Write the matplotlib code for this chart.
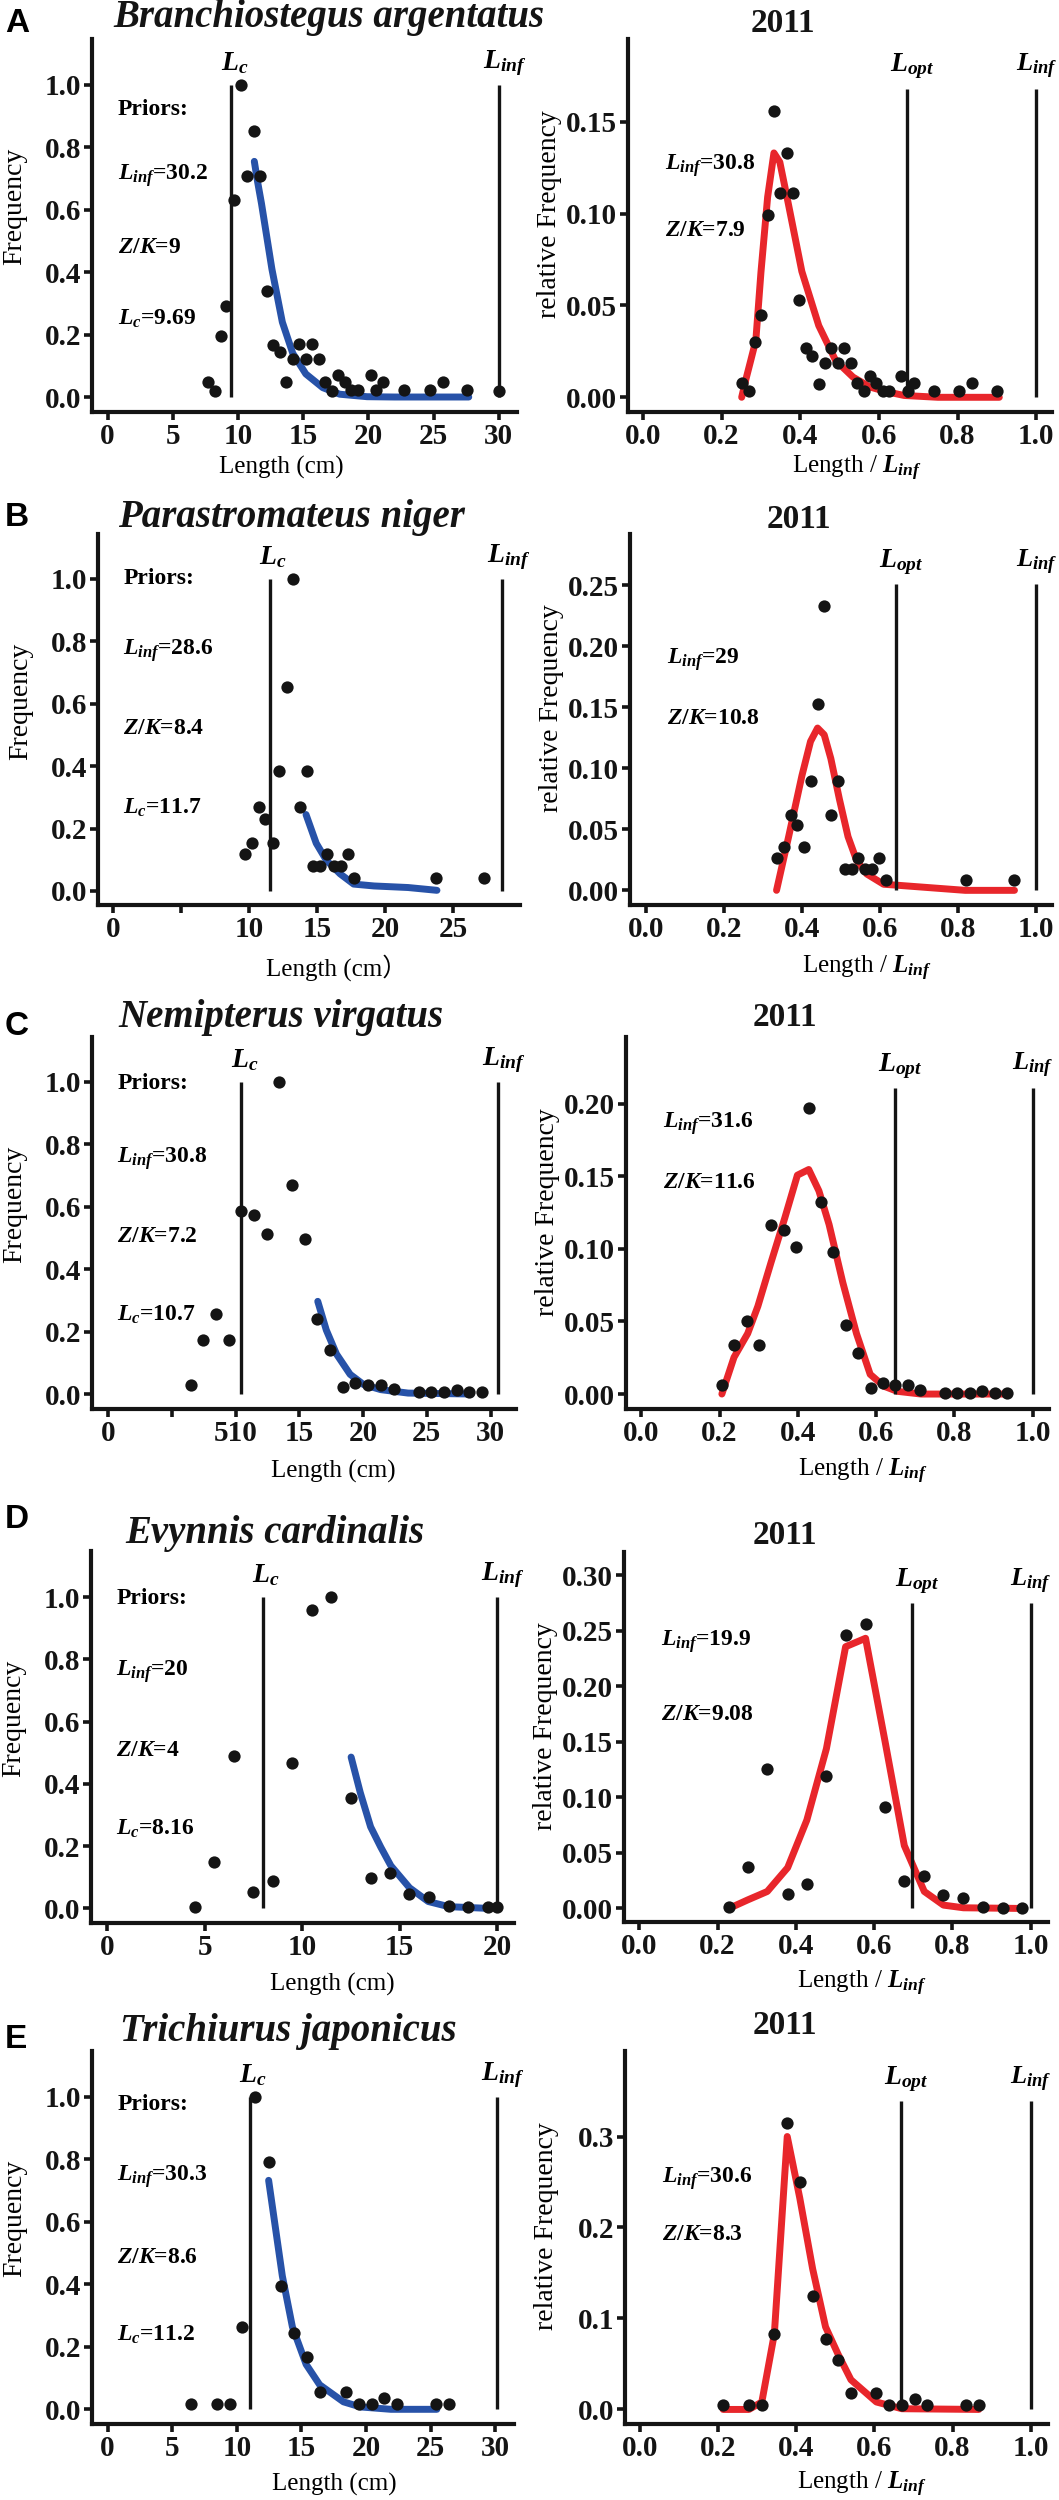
import matplotlib
matplotlib.use('Agg')
import matplotlib.pyplot as plt

# --- data ---------------------------------------------------------------
species = ['Branchiostegus argentatus', 'Parastromateus niger', 'Nemipterus virgatus',
           'Evynnis cardinalis', 'Trichiurus japonicus']
panel_tags = ['A', 'B', 'C', 'D', 'E']
year = '2011'

linf_prior = ['30.2', '28.6', '30.8', '20', '30.3']
zk_prior = ['9', '8.4', '7.2', '4', '8.6']
lc_prior = ['9.69', '11.7', '10.7', '8.16', '11.2']
linf_est = ['30.8', '29', '31.6', '19.9', '30.6']
zk_est = ['7.9', '10.8', '11.6', '9.08', '8.3']

lc_line = [9.5, 11.5, 10.45, 8.0, 11.0]
linf_line = [30.0, 28.6, 30.6, 20.0, 30.1]
lopt_line = [0.672, 0.642, 0.648, 0.696, 0.668]
rel_line_top = [0.168, 0.251, 0.211, 0.275, 0.339]

# A  Branchiostegus argentatus
ba_len = [7.7, 8.2, 8.7, 9.1, 9.7, 10.2, 10.7, 11.2, 11.7, 12.2, 12.7, 13.2, 13.7, 14.2, 14.7,
          15.2, 15.7, 16.2, 16.7, 17.2, 17.7, 18.2, 18.7, 19.2, 20.2, 20.6, 21.1, 22.7, 24.7,
          25.7, 27.6, 30.0]
ba_freq = [0.047, 0.020, 0.194, 0.292, 0.632, 1.0, 0.708, 0.853, 0.708, 0.339, 0.167, 0.143,
           0.047, 0.121, 0.169, 0.121, 0.169, 0.121, 0.047, 0.020, 0.072, 0.047, 0.022, 0.022,
           0.072, 0.022, 0.047, 0.022, 0.022, 0.047, 0.022, 0.020]
ba_fit_x = [11.25, 11.5, 11.8, 12.6, 13.4, 14.2, 15.2, 16.5, 17.8, 19.9, 22.0, 25.0, 27.7]
ba_fit_y = [0.755, 0.69, 0.62, 0.41, 0.24, 0.14, 0.074, 0.030, 0.009, 0.001, 0.0, 0.0, 0.0]
ba_rel = [0.251, 0.270, 0.284, 0.300, 0.317, 0.333, 0.349, 0.367, 0.381, 0.398, 0.414, 0.430,
          0.447, 0.463, 0.478, 0.495, 0.512, 0.528, 0.544, 0.561, 0.577, 0.593, 0.610, 0.626,
          0.657, 0.674, 0.689, 0.739, 0.804, 0.837, 0.901]
ba_rfreq = [0.0078, 0.0037, 0.030, 0.045, 0.099, 0.156, 0.111, 0.133, 0.111, 0.053, 0.027,
            0.0226, 0.0074, 0.0189, 0.027, 0.0189, 0.027, 0.0189, 0.0078, 0.0037, 0.0115,
            0.0078, 0.0037, 0.0037, 0.0115, 0.0037, 0.0078, 0.0037, 0.0037, 0.0078, 0.0037]
ba_bh_x = [0.251, 0.262, 0.274, 0.287, 0.300, 0.317, 0.333, 0.348, 0.369, 0.404, 0.447, 0.49,
           0.534, 0.577, 0.62, 0.664, 0.75, 0.906]
ba_bh_y = [0.0, 0.010, 0.020, 0.031, 0.068, 0.109, 0.133, 0.128, 0.106, 0.0685, 0.039, 0.020,
           0.011, 0.0056, 0.003, 0.001, 0.0, 0.0]

# B  Parastromateus niger
pn_len = [9.73, 10.23, 10.73, 11.18, 11.75, 12.23, 12.75, 13.25, 13.73, 14.23, 14.73, 15.23,
          15.75, 16.25, 16.75, 17.23, 17.73, 23.75, 27.23]
pn_freq = [0.117, 0.153, 0.269, 0.231, 0.153, 0.385, 0.654, 1.0, 0.269, 0.385, 0.0785, 0.0785,
           0.117, 0.0785, 0.0785, 0.117, 0.040, 0.040, 0.040]
pn_fit_x = [14.18, 14.93, 15.68, 16.68, 17.68, 19.18, 21.68, 23.8]
pn_fit_y = [0.245, 0.153, 0.098, 0.055, 0.022, 0.016, 0.011, 0.002]
pn_rel = [0.337, 0.354, 0.372, 0.388, 0.406, 0.422, 0.440, 0.457, 0.474, 0.492, 0.509, 0.527,
          0.544, 0.561, 0.579, 0.596, 0.614, 0.821, 0.942]
pn_rfreq = [0.0264, 0.0356, 0.062, 0.0537, 0.0356, 0.0894, 0.1526, 0.2333, 0.062, 0.0894,
            0.0175, 0.0175, 0.0264, 0.0175, 0.0175, 0.0264, 0.0086, 0.0086, 0.0086]
pn_bh_x = [0.335, 0.366, 0.400, 0.422, 0.440, 0.457, 0.474, 0.496, 0.518, 0.540, 0.566, 0.609,
           0.644, 0.818, 0.944]
pn_bh_y = [0.0, 0.044, 0.094, 0.122, 0.133, 0.1275, 0.108, 0.0746, 0.044, 0.0245, 0.0134,
           0.005, 0.0042, 0.0, 0.0]

# C  Nemipterus virgatus
nv_len = [6.50, 7.43, 8.45, 9.44, 10.43, 11.44, 12.46, 13.42, 14.44, 15.45, 16.39, 17.38, 18.45,
          19.39, 20.40, 21.39, 22.41, 24.39, 25.35, 26.34, 27.35, 28.34, 29.33]
nv_freq = [0.028, 0.172, 0.256, 0.172, 0.588, 0.573, 0.512, 1.0, 0.671, 0.497, 0.240, 0.142,
           0.022, 0.034, 0.028, 0.030, 0.016, 0.0065, 0.0065, 0.0065, 0.014, 0.0065, 0.005]
nv_fit_x = [16.44, 17.11, 17.91, 18.98, 20.05, 21.39, 23.53, 28.48]
nv_fit_y = [0.297, 0.205, 0.128, 0.063, 0.030, 0.014, 0.003, 0.0]
nv_rel = [0.206, 0.238, 0.269, 0.301, 0.332, 0.365, 0.396, 0.428, 0.459, 0.491, 0.522, 0.554,
          0.587, 0.618, 0.648, 0.681, 0.713, 0.775, 0.807, 0.839, 0.870, 0.903, 0.935]
nv_rfreq = [0.0059, 0.034, 0.0504, 0.034, 0.1163, 0.1128, 0.101, 0.197, 0.1325, 0.098, 0.0476,
            0.0281, 0.0042, 0.0073, 0.0059, 0.0059, 0.0026, 0.0007, 0.0007, 0.0007, 0.0023,
            0.0007, 0.0007]
nv_bh_x = [0.206, 0.237, 0.272, 0.298, 0.332, 0.367, 0.399, 0.428, 0.454, 0.480, 0.515, 0.550,
           0.585, 0.620, 0.654, 0.715, 0.933]
nv_bh_y = [0.0, 0.0253, 0.0417, 0.0605, 0.091, 0.1215, 0.1508, 0.1547, 0.140, 0.1168, 0.0769,
           0.0417, 0.0136, 0.0054, 0.0019, 0.0, 0.0]

# D  Evynnis cardinalis
ec_len = [4.49, 5.48, 6.49, 7.49, 8.50, 9.49, 10.51, 11.50, 12.50, 13.51, 14.50, 15.50, 16.51,
          17.52, 18.52, 19.53, 20.0]
ec_freq = [0.0055, 0.1475, 0.490, 0.0525, 0.0874, 0.467, 0.960, 1.0, 0.355, 0.098, 0.1126,
           0.047, 0.038, 0.0077, 0.0033, 0.0033, 0.0033]
ec_fit_x = [12.51, 12.98, 13.51, 14.03, 14.55, 15.51, 16.47, 17.52, 19.53]
ec_fit_y = [0.486, 0.372, 0.262, 0.197, 0.137, 0.066, 0.022, 0.0055, 0.0]
ec_rel = [0.229, 0.277, 0.327, 0.379, 0.428, 0.478, 0.527, 0.578, 0.628, 0.677, 0.728, 0.777,
          0.828, 0.879, 0.930, 0.978]
ec_rfreq = [0.0009, 0.0373, 0.1255, 0.0129, 0.022, 0.1194, 0.2464, 0.2565, 0.0912, 0.0245,
            0.029, 0.0122, 0.0092, 0.0015, 0.0006, 0.0006]
ec_bh_x = [0.229, 0.277, 0.327, 0.379, 0.428, 0.478, 0.527, 0.578, 0.628, 0.677, 0.728, 0.777,
           0.828, 0.978]
ec_bh_y = [0.0, 0.0077, 0.0153, 0.0367, 0.0796, 0.1439, 0.2357, 0.2433, 0.150, 0.0566, 0.0153,
           0.003, 0.0006, 0.0]

# E  Trichiurus japonicus
tj_len = [6.47, 8.44, 9.49, 10.41, 11.41, 12.46, 13.44, 14.44, 15.43, 16.41, 18.43, 19.43,
          20.43, 21.40, 22.40, 25.43, 26.40]
tj_freq = [0.0175, 0.0175, 0.0175, 0.264, 1.0, 0.793, 0.395, 0.245, 0.169, 0.0545, 0.0545,
           0.0175, 0.0175, 0.037, 0.0175, 0.0175, 0.0175]
tj_fit_x = [12.46, 12.99, 13.52, 14.30, 15.36, 16.41, 18.25, 19.56, 21.93, 25.48]
tj_fit_y = [0.733, 0.58, 0.427, 0.264, 0.144, 0.0785, 0.024, 0.0076, 0.0, 0.0]
tj_rel = [0.213, 0.279, 0.312, 0.344, 0.377, 0.409, 0.442, 0.475, 0.507, 0.540, 0.605, 0.638,
          0.670, 0.703, 0.735, 0.834, 0.867]
tj_rfreq = [0.0052, 0.0052, 0.0052, 0.0832, 0.315, 0.250, 0.1252, 0.0776, 0.054, 0.0176,
            0.0176, 0.0052, 0.0052, 0.012, 0.0052, 0.0052, 0.0052]
tj_bh_x = [0.213, 0.279, 0.312, 0.344, 0.377, 0.409, 0.442, 0.475, 0.507, 0.540, 0.605, 0.670,
           0.867]
tj_bh_y = [0.0, 0.0, 0.0082, 0.083, 0.300, 0.2325, 0.1545, 0.0907, 0.0607, 0.0326, 0.0082,
           0.0008, 0.0]

left_data = [(ba_len, ba_freq, ba_fit_x, ba_fit_y), (pn_len, pn_freq, pn_fit_x, pn_fit_y),
             (nv_len, nv_freq, nv_fit_x, nv_fit_y), (ec_len, ec_freq, ec_fit_x, ec_fit_y),
             (tj_len, tj_freq, tj_fit_x, tj_fit_y)]
right_data = [(ba_rel, ba_rfreq, ba_bh_x, ba_bh_y), (pn_rel, pn_rfreq, pn_bh_x, pn_bh_y),
              (nv_rel, nv_rfreq, nv_bh_x, nv_bh_y), (ec_rel, ec_rfreq, ec_bh_x, ec_bh_y),
              (tj_rel, tj_rfreq, tj_bh_x, tj_bh_y)]

left_xticks = [[0, 5, 10, 15, 20, 25, 30], [0, 5, 10, 15, 20, 25], [0, 5, 10, 15, 20, 25, 30],
               [0, 5, 10, 15, 20], [0, 5, 10, 15, 20, 25, 30]]
left_xlabels = [['0', '5', '10', '15', '20', '25', '30'], ['0', '', '10', '15', '20', '25'],
                ['0', '', '510', '15', '20', '25', '30'], ['0', '5', '10', '15', '20'],
                ['0', '5', '10', '15', '20', '25', '30']]
right_yticks = [[0, 0.05, 0.10, 0.15], [0, 0.05, 0.10, 0.15, 0.20, 0.25],
                [0, 0.05, 0.10, 0.15, 0.20], [0, 0.05, 0.10, 0.15, 0.20, 0.25, 0.30],
                [0, 0.1, 0.2, 0.3]]
right_yfmt = ['%.2f', '%.2f', '%.2f', '%.2f', '%.1f']
x_units = ['Length (cm)', 'Length (cm）', 'Length (cm)', 'Length (cm)', 'Length (cm)']

# --- layout (pixel boxes measured on the 1059x2500 original) -------------
W, H = 1059, 2500
left_box = [(92, 39, 517, 412), (98, 534, 520, 905), (92, 1037, 516, 1409),
            (91, 1551, 514, 1923), (92, 2051, 514, 2424)]
right_box = [(628, 39, 1052, 412), (630, 534, 1052, 905), (626, 1037, 1049, 1409),
             (624, 1552, 1048, 1922), (625, 2051, 1048, 2424)]
left_xlim = [(-1.2, 31.4), (-1.1, 29.9), (-1.28, 32.0), (-0.84, 20.87), (-1.21, 31.45)]
left_ylim = [(-0.048, 1.147), (-0.045, 1.144), (-0.048, 1.144), (-0.047, 1.148), (-0.047, 1.147)]
right_xlim = [(-0.038, 1.04), (-0.04, 1.04), (-0.039, 1.042), (-0.039, 1.044), (-0.038, 1.044)]
right_ylim = [(-0.008, 0.195), (-0.012, 0.292), (-0.0103, 0.246), (-0.0122, 0.321), (-0.016, 0.394)]
prior_y = [[0.92, 0.71, 0.48, 0.25], [1.0, 0.77, 0.52, 0.267], [0.995, 0.755, 0.504, 0.254],
           [0.995, 0.76, 0.508, 0.257], [0.975, 0.744, 0.487, 0.237]]
est_y = [[0.126, 0.091], [0.189, 0.141], [0.186, 0.146], [0.240, 0.175], [0.254, 0.192]]
title_pos = [(329, 17), (291, 517), (281, 1017), (275, 1533), (288, 2031)]
year_pos = [(783, 24), (799, 520), (785, 1017), (785, 1536), (785, 2026)]
tag_top = [8, 502, 1011, 1504, 2024]
xlab_pos = [(0.445, 0.54, -0.15), (0.565, 0.56, -0.17), (0.57, 0.56, -0.167),
            (0.57, 0.56, -0.165), (0.575, 0.56, -0.163)]

plt.rcParams['font.family'] = ['Liberation Serif', 'Noto Sans CJK SC']
plt.rcParams['font.weight'] = 'bold'
plt.rcParams['mathtext.fontset'] = 'custom'
plt.rcParams['mathtext.it'] = 'Liberation Serif:bold:italic'
plt.rcParams['mathtext.rm'] = 'Liberation Serif:bold'
plt.rcParams['mathtext.bf'] = 'Liberation Serif:bold'

BLUE = '#2752a8'
RED = '#e8262b'
INK = '#141414'


def box(b):
    x0, y0, x1, y1 = b
    return [x0 / W, 1 - y1 / H, (x1 - x0) / W, (y1 - y0) / H]


def style(ax):
    for s in ['top', 'right']:
        ax.spines[s].set_visible(False)
    for s in ['left', 'bottom']:
        ax.spines[s].set_linewidth(3.0)
        ax.spines[s].set_color(INK)
    ax.tick_params(direction='out', length=6, width=2.6, labelsize=21, pad=2, colors=INK)


def place_labels(ax, ylab_x, ylab_y, xlab_x, xlab_y):
    ax.yaxis.set_label_coords(ylab_x, ylab_y)
    ax.yaxis.label.set_verticalalignment('center')
    ax.xaxis.set_label_coords(xlab_x, xlab_y)
    ax.xaxis.label.set_verticalalignment('center')


fig = plt.figure(figsize=(W / 100, H / 100), dpi=100)

for i in range(5):
    # left: length frequency with catch curve
    ax = fig.add_axes(box(left_box[i]))
    style(ax)
    lx, ly, fx, fy = left_data[i]
    ax.scatter(lx, ly, s=78, color=INK, zorder=3, linewidths=0)
    ax.plot(fx, fy, color=BLUE, lw=5, solid_capstyle='round', zorder=2)
    ax.vlines([lc_line[i], linf_line[i]], 0, 1.0, color=INK, lw=2.4)
    ax.annotate(r'$L_c$', (lc_line[i], 1.0), xytext=(3, 22), textcoords='offset pixels',
                ha='center', va='center', fontsize=20)
    ax.annotate(r'$L_{inf}$', (linf_line[i], 1.0), xytext=(6, 22), textcoords='offset pixels',
                ha='center', va='center', fontsize=20)
    tr = ax.get_yaxis_transform()
    py = prior_y[i]
    ax.text(0.06, py[0], 'Priors:', transform=tr, fontsize=17, va='center')
    ax.text(0.06, py[1], r'$L_{inf}$=' + linf_prior[i], transform=tr, fontsize=17, va='center')
    ax.text(0.06, py[2], r'$Z/K$=' + zk_prior[i], transform=tr, fontsize=17, va='center')
    ax.text(0.06, py[3], r'$L_c$=' + lc_prior[i], transform=tr, fontsize=17, va='center')
    ax.set_xlim(left_xlim[i])
    ax.set_ylim(left_ylim[i])
    ax.set_xticks(left_xticks[i])
    ax.set_xticklabels(left_xlabels[i])
    ax.set_yticks([0, 0.2, 0.4, 0.6, 0.8, 1.0])
    ax.set_yticklabels(['%.1f' % v for v in [0, 0.2, 0.4, 0.6, 0.8, 1.0]])
    ax.set_ylabel('Frequency', fontsize=20)
    ax.set_xlabel(x_units[i], fontsize=18)
    place_labels(ax, -0.182, 0.55, xlab_pos[i][0], xlab_pos[i][2])

    # right: relative frequency with fitted curve
    ax2 = fig.add_axes(box(right_box[i]))
    style(ax2)
    rx, ry, bx, by = right_data[i]
    ax2.scatter(rx, ry, s=78, color=INK, zorder=3, linewidths=0)
    ax2.plot(bx, by, color=RED, lw=5, solid_capstyle='round', zorder=2)
    ax2.vlines([lopt_line[i], 1.0], 0, rel_line_top[i], color=INK, lw=2.4)
    ax2.annotate(r'$L_{opt}$', (lopt_line[i], rel_line_top[i]), xytext=(5, 22),
                 textcoords='offset pixels', ha='center', va='center', fontsize=20)
    ax2.annotate(r'$L_{inf}$', (1.0, rel_line_top[i]), xytext=(0, 22),
                 textcoords='offset pixels', ha='center', va='center', fontsize=19)
    tr2 = ax2.get_yaxis_transform()
    ax2.text(0.088, est_y[i][0], r'$L_{inf}$=' + linf_est[i], transform=tr2, fontsize=17,
             va='center')
    ax2.text(0.088, est_y[i][1], r'$Z/K$=' + zk_est[i], transform=tr2, fontsize=17,
             va='center')
    ax2.set_xlim(right_xlim[i])
    ax2.set_ylim(right_ylim[i])
    ax2.set_xticks([0, 0.2, 0.4, 0.6, 0.8, 1.0])
    ax2.set_xticklabels(['%.1f' % v for v in [0, 0.2, 0.4, 0.6, 0.8, 1.0]])
    ax2.set_yticks(right_yticks[i])
    ax2.set_yticklabels([right_yfmt[i] % v for v in right_yticks[i]])
    ax2.set_ylabel('relative Frequency', fontsize=20)
    ax2.set_xlabel(r'Length / $L_{inf}$', fontsize=18)
    place_labels(ax2, -0.185, 0.53, xlab_pos[i][1], xlab_pos[i][2])

    fig.text(title_pos[i][0] / W, 1 - title_pos[i][1] / H, species[i], fontsize=28,
             style='italic', weight='bold', ha='center', va='center', color=INK)
    fig.text(year_pos[i][0] / W, 1 - year_pos[i][1] / H, year, fontsize=24,
             weight='bold', ha='center', va='center', color=INK)
    fig.text(5 / W, 1 - tag_top[i] / H, panel_tags[i], fontsize=24, weight='bold',
             family='Liberation Sans', ha='left', va='top', color='black')

fig.savefig('out.png', dpi=100)
